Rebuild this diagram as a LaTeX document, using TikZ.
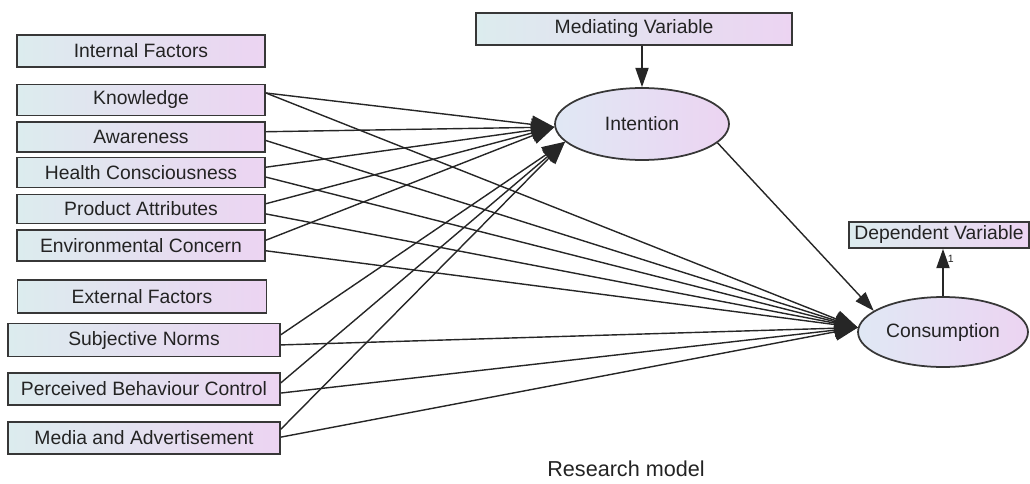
\documentclass[tikz,border=0pt]{standalone}
\usepackage{fontspec}
\setmainfont{Liberation Sans}
\usetikzlibrary{shapes,arrows.meta,positioning,calc}

\definecolor{boxleft}{RGB}{220,236,238}
\definecolor{boxright}{RGB}{236,212,242}
\definecolor{ellleft}{RGB}{224,232,244}
\definecolor{edgegray}{RGB}{55,55,55}
\definecolor{textgray}{RGB}{35,35,35}

\tikzset{
  varbox/.style={draw=edgegray, line width=1pt, left color=boxleft, right color=boxright,
    text=textgray, inner sep=1pt, font=\fontsize{11}{13}\selectfont},
  latent/.style={ellipse, draw=edgegray, line width=1pt, left color=ellleft, right color=boxright,
    text=textgray, inner sep=0pt, font=\fontsize{11}{13}\selectfont},
  regarrow/.style={line width=0.8pt, draw=black!85, -{Triangle[length=13pt,width=10pt]}},
  smallarrow/.style={line width=0.8pt, draw=black!85, -{Triangle[length=11pt,width=7.5pt]}}
}

\begin{document}
\begin{tikzpicture}[x=0.02cm,y=-0.02cm]
    \useasboundingbox (0,0) rectangle (1030,483);

    % Internal factors
    \node[varbox, minimum width=4.96cm, minimum height=0.64cm] (intf) at (141,51) {Internal Factors};
    \node[varbox, minimum width=4.96cm, minimum height=0.62cm] (know) at (141,100) {Knowledge};
    \node[varbox, minimum width=4.96cm, minimum height=0.6cm] (awar) at (141,137) {Awareness};
    \node[varbox, minimum width=4.96cm, minimum height=0.6cm] (heal) at (141,172.5) {Health Consciousness};
    \node[varbox, minimum width=4.96cm, minimum height=0.58cm] (prod) at (141,209) {Product Attributes};
    \node[varbox, minimum width=4.96cm, minimum height=0.62cm] (envi) at (141,245.5) {Environmental Concern};

    % External factors
    \node[varbox, minimum width=4.98cm, minimum height=0.66cm] (extf) at (142,296.5) {External Factors};
    \node[varbox, minimum width=5.44cm, minimum height=0.66cm] (subj) at (144,340) {Subjective Norms};
    \node[varbox, minimum width=5.44cm, minimum height=0.64cm] (perc) at (144,389) {Perceived Behaviour Control};
    \node[varbox, minimum width=5.44cm, minimum height=0.64cm] (medi) at (144,438) {Media and Advertisement};

    % Mediating and dependent variables
    \node[varbox, minimum width=6.32cm, minimum height=0.64cm] (medv) at (634,29) {Mediating Variable};
    \node[latent, minimum width=3.48cm, minimum height=1.44cm] (inten) at (642,124) {Intention};
    \node[latent, minimum width=3.4cm, minimum height=1.4cm] (cons) at (943,332) {Consumption};
    \node[varbox, minimum width=3.6cm, minimum height=0.52cm] (depv) at (939,235) {Dependent Variable};

    % Paths to Intention
    \draw[regarrow] ([yshift=4pt]know.east) -- (inten.182);
    \draw[regarrow] ([yshift=3pt]awar.east) -- (inten.182);
    \draw[regarrow] ([yshift=3pt]heal.east) -- (inten.182);
    \draw[regarrow] ([yshift=3pt]prod.east) -- (inten.182);
    \draw[regarrow] ([yshift=3pt]envi.east) -- (inten.182);
    \draw[regarrow] ([yshift=3pt]subj.east) -- (inten.193);
    \draw[regarrow] ([yshift=3.5pt]perc.east) -- (inten.193);
    \draw[regarrow] ([yshift=5pt]medi.east) -- (inten.193);

    % Paths to Consumption
    \draw[regarrow] ([yshift=4pt]know.east) -- (cons.177);
    \draw[regarrow] ([yshift=-2pt]awar.east) -- (cons.177);
    \draw[regarrow] ([yshift=-2.6pt]heal.east) -- (cons.177);
    \draw[regarrow] ([yshift=-2.8pt]prod.east) -- (cons.177);
    \draw[regarrow] ([yshift=-3pt]envi.east) -- (cons.177);
    \draw[regarrow] ([yshift=-2.8pt]subj.east) -- (cons.177);
    \draw[regarrow] ([yshift=-2.3pt]perc.east) -- (cons.177);
    \draw[regarrow] ([yshift=0.5pt]medi.east) -- (cons.177);

    % Mediator and outcome
    \draw[smallarrow] (medv.south -| inten.north) -- (inten.north);
    \draw[smallarrow] (inten.-14) -- (cons.163);
    \draw[smallarrow] (cons.north) -- (cons.north |- depv.south)
        node[pos=0.78, right=-1pt, font=\fontsize{6}{7}\selectfont, text=textgray] {1};

    % Caption
    \node[text=textgray, inner sep=1pt, font=\fontsize{12.3}{14}\selectfont] (capt) at (626,469) {Research model};
\end{tikzpicture}
\end{document}
